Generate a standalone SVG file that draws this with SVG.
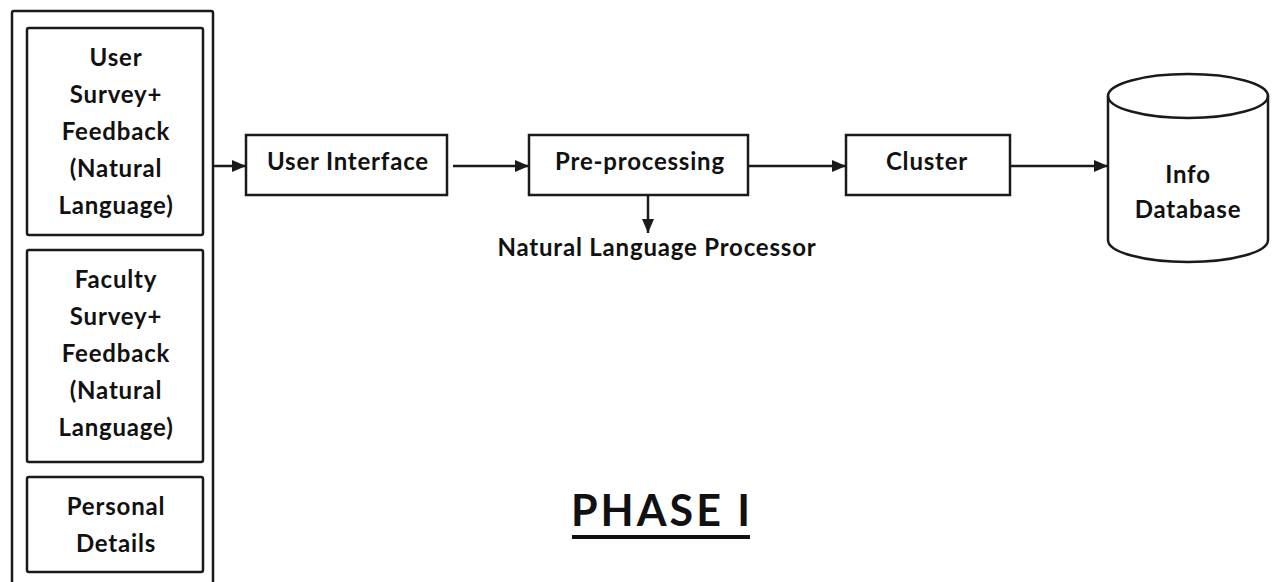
<svg xmlns="http://www.w3.org/2000/svg" width="1273" height="582" viewBox="0 0 1273 582">
  <style>
    .box { fill: #ffffff; stroke: #1a1a1a; stroke-width: 2.5; }
    .lbl { font-family: Lato, "Open Sans", "Liberation Sans", sans-serif; font-weight: bold; font-size: 24px; letter-spacing: 0.8px; fill: #111111; text-anchor: middle; }
    .edge { stroke: #1a1a1a; stroke-width: 2.5; fill: none; marker-end: url(#arrow); }
  </style>
  <defs>
    <marker id="arrow" viewBox="0 0 14 12" refX="14" refY="6" markerWidth="14" markerHeight="12" markerUnits="userSpaceOnUse" orient="auto">
      <path d="M0,0 L14,6 L0,12 Z" fill="#1a1a1a"/>
    </marker>
  </defs>
  <rect width="1273" height="582" fill="#ffffff"/>

  <!-- input sources panel -->
  <g id="inputs">
    <rect class="box" x="12" y="11" width="201" height="580" rx="2"/>
  </g>
  <g id="user-survey">
    <rect class="box" x="27" y="28" width="176" height="207" rx="2"/>
    <text class="lbl" x="116" y="66">User</text>
    <text class="lbl" x="116" y="103">Survey+</text>
    <text class="lbl" x="116" y="140">Feedback</text>
    <text class="lbl" x="116" y="177">(Natural</text>
    <text class="lbl" x="116" y="214">Language)</text>
  </g>
  <g id="faculty-survey">
    <rect class="box" x="27" y="250" width="176" height="212" rx="2"/>
    <text class="lbl" x="116" y="288">Faculty</text>
    <text class="lbl" x="116" y="325">Survey+</text>
    <text class="lbl" x="116" y="362">Feedback</text>
    <text class="lbl" x="116" y="399">(Natural</text>
    <text class="lbl" x="116" y="436">Language)</text>
  </g>
  <g id="personal-details">
    <rect class="box" x="27" y="477" width="176" height="95" rx="2"/>
    <text class="lbl" x="116" y="515">Personal</text>
    <text class="lbl" x="116" y="552">Details</text>
  </g>

  <!-- processing chain -->
  <g id="user-interface">
    <rect class="box" x="246" y="135" width="201" height="60"/>
    <text class="lbl" x="348" y="170">User Interface</text>
  </g>
  <g id="pre-processing">
    <rect class="box" x="529" y="135" width="219" height="60"/>
    <text class="lbl" x="640" y="170">Pre-processing</text>
  </g>
  <g id="nlp">
    <text class="lbl" x="657" y="256">Natural Language Processor</text>
  </g>
  <g id="cluster">
    <rect class="box" x="846" y="135" width="164" height="60"/>
    <text class="lbl" x="927" y="170">Cluster</text>
  </g>
  <g id="info-database">
    <path class="box" d="M1108,96 L1108,240 A80,22 0 0 0 1268,240 L1268,96 A80,22 0 0 0 1108,96 Z"/>
    <path d="M1108,96 A80,22 0 0 0 1268,96" fill="none" stroke="#1a1a1a" stroke-width="2.5"/>
    <text class="lbl" x="1188" y="183">Info</text>
    <text class="lbl" x="1188" y="218">Database</text>
  </g>

  <g id="connectors">
    <line class="edge" x1="213" y1="166" x2="246" y2="166"/>
    <line class="edge" x1="453" y1="166" x2="529" y2="166"/>
    <line class="edge" x1="748" y1="166" x2="846" y2="166"/>
    <line class="edge" x1="1010" y1="166" x2="1108" y2="166"/>
    <line class="edge" x1="648" y1="195" x2="648" y2="233"/>
  </g>

  <g id="title">
    <text x="662" y="526" font-family="Lato, 'Open Sans', 'Liberation Sans', sans-serif" font-weight="bold" font-size="43" letter-spacing="3" fill="#111111" text-anchor="middle">PHASE I</text>
    <rect x="572" y="535" width="178" height="4" fill="#111111"/>
  </g>
</svg>
